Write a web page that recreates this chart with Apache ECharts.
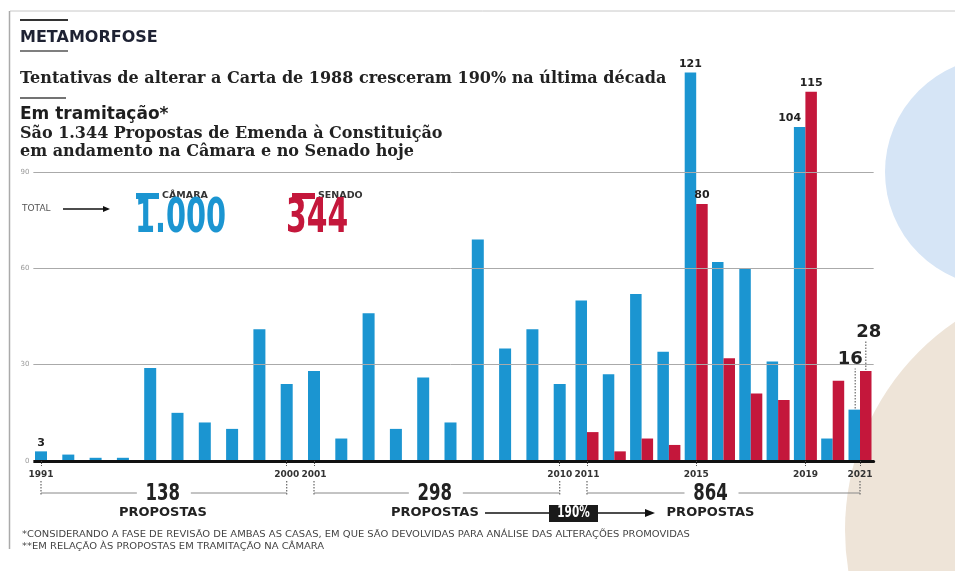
<!DOCTYPE html>
<html><head><meta charset="utf-8">
<script src="https://cdn.jsdelivr.net/npm/echarts@6/dist/echarts.min.js"></script>
<style>html,body{margin:0;padding:0;background:#fff}#c{width:955px;height:571px}</style>
</head><body><div id="c"></div>
<script>
// ---------- DATA ----------
const years = ['1991','1992','1993','1994','1995','1996','1997','1998','1999','2000',
               '2001','2002','2003','2004','2005','2006','2007','2008','2009','2010',
               '2011','2012','2013','2014','2015','2016','2017','2018','2019','2020','2021'];
const camara = [3,2,1,1,29,15,12,10,41,24, 28,7,46,10,26,12,69,35,41,24, 50,27,52,34,121,62,60,31,104,7,16];
const senado = [null,null,null,null,null,null,null,null,null,null,
                null,null,null,null,null,null,null,null,null,null,
                9,3,7,5,80,32,21,19,115,25,28];
const yTicks = [0,30,60,90];
const shownYears = ['1991','2000','2001','2010','2011','2015','2019','2021'];
const senadoStart = '2011';
const periodFrom = ['1991','2001','2011'];
const periodTo = ['2000','2010','2021'];
const periodTotal = ['138','298','864'];
const totalCamara = '1.000';
const totalSenado = '344';
const growth = '190%';
const labeledCamara = ['1991','2015','2019','2021'];
const labeledSenado = ['2015','2019','2021'];

// ---------- STYLE ----------
const BLUE = '#1b95d1', RED = '#c4173b', INK = '#222';
const BW = 11.5;
const lblBase = {show:true, position:'top', fontFamily:'DejaVu Sans', fontWeight:'bold', fontSize:11, color:INK, distance:3};
const camaraLabelStyle = {
  '2019': {offset:[-10,0]},
  '2021': {fontSize:18, distance:41, offset:[-4,0]}
};
const senadoLabelStyle = {
  '2021': {fontSize:18, distance:30, offset:[3,0]}
};
const splitIdx = years.indexOf(senadoStart);

function items(vals, labeled, extra, keep) {
  return vals.map((v, i) => {
    if (!keep(i) || v == null) return null;
    const y = years[i];
    if (labeled.includes(y)) return {value:v, label:Object.assign({}, lblBase, extra[y] || {})};
    return v;
  });
}

const chart = echarts.init(document.getElementById('c'), null, {renderer:'canvas'});
const option = {
  animation:false,
  backgroundColor:'#fff',
  grid:{left:27.35, right:81.35, top:172, bottom:110, containLabel:false},
  legend:[
    {data:['CÂMARA'], left:131, top:186, itemWidth:23, itemHeight:6, itemGap:5, icon:'rect', selectedMode:false,
     textStyle:{fontFamily:'DejaVu Sans', fontWeight:'bold', fontSize:9.5, color:'#333', padding:[0,0,0,-2]}},
    {data:['SENADO'], left:287, top:186, itemWidth:23, itemHeight:6, itemGap:5, icon:'rect', selectedMode:false,
     textStyle:{fontFamily:'DejaVu Sans', fontWeight:'bold', fontSize:9.5, color:'#333', padding:[0,0,0,-2]}}
  ],
  xAxis:[
    {type:'category', data:years, boundaryGap:true,
     axisLine:{show:true, lineStyle:{color:'#111', width:3}},
     axisTick:{show:true, alignWithLabel:true, length:6, interval:(i,v)=>shownYears.includes(v),
               lineStyle:{color:'#555', width:1, type:[1,1]}},
     axisLabel:{interval:(i,v)=>shownYears.includes(v), margin:9, fontFamily:'DejaVu Sans', fontWeight:'bold',
                fontSize:9, color:'#333'},
     splitLine:{show:false}, z:3},
    {type:'category', data:years, show:false, boundaryGap:true}
  ],
  yAxis:{type:'value', min:yTicks[0], max:yTicks[yTicks.length-1], interval:30, z:4,
    axisLine:{show:false}, axisTick:{show:false},
    axisLabel:{fontSize:7, color:'#999', fontFamily:'DejaVu Sans', margin:-6, backgroundColor:'#fff', padding:[0,4,0,1]},
    splitLine:{show:true, showMinLine:false, lineStyle:{color:'#aaa', width:1}}},
  series:[
    {name:'CÂMARA', type:'bar', xAxisIndex:1, barWidth:12, clip:false, itemStyle:{color:BLUE},
     data:items(camara, labeledCamara, camaraLabelStyle, i => i < splitIdx)},
    {name:'CÂMARA', type:'bar', xAxisIndex:0, barWidth:BW, barGap:'0%', clip:false, itemStyle:{color:BLUE},
     data:items(camara, labeledCamara, camaraLabelStyle, i => i >= splitIdx)},
    {name:'SENADO', type:'bar', xAxisIndex:0, barWidth:BW, barGap:'0%', clip:false, itemStyle:{color:RED},
     data:items(senado, labeledSenado, senadoLabelStyle, i => i >= splitIdx)}
  ]
};
chart.setOption(option);

// ---------- ANNOTATIONS (derived from axes) ----------
const px = y => chart.convertToPixel({xAxisIndex:0}, y);
const py = v => chart.convertToPixel({yAxisIndex:0}, v);
function txt(x, y, text, font, fill, align, extra) {
  return Object.assign({type:'text', x:x, y:y, z:10,
    style:{text:text, font:font, fill:fill, textAlign:align||'left', align:align||'left',
           textVerticalAlign:'middle', verticalAlign:'middle'}}, extra || {});
}
function line(x1,y1,x2,y2,stroke,w,dash) {
  return {type:'line', z:9, shape:{x1,y1,x2,y2}, style:{stroke:stroke, lineWidth:w, lineDash:dash||null}};
}
const els = [];
// background decoration
els.push({type:'circle', z:-5, shape:{cx:1000, cy:172, r:115}, style:{fill:'#d6e5f6'}});
els.push({type:'circle', z:-5, shape:{cx:1097, cy:530, r:252}, style:{fill:'#eee4d8'}});
// frame
els.push(line(10,11,955,11,'#c8c8c8',1));
els.push(line(9.5,11,9.5,549,'#aaa',1.5));
els.push(line(20,20,68,20,'#333',2));
els.push(line(20,51,68,51,'#555',1.5));
els.push(line(20,98,66,98,'#444',1.5));
// titles
els.push(txt(20,37.5,'METAMORFOSE','bold 16px "DejaVu Sans"','#1e2233'));
els.push(txt(20,79,'Tentativas de alterar a Carta de 1988 cresceram 190% na última década','bold 16px "DejaVu Serif"','#222'));
els.push(txt(20,115,'Em tramitação*','bold 17px "DejaVu Sans"','#1e1e1e'));
els.push(txt(20,134,'São 1.344 Propostas de Emenda à Constituição','bold 16px "DejaVu Serif"','#222'));
els.push(txt(20,152,'em andamento na Câmara e no Senado hoje','bold 16px "DejaVu Serif"','#222'));
// totals
els.push(txt(22,209,'TOTAL','9px "DejaVu Sans"','#555'));
els.push(line(63,209,104,209,'#111',1.5));
els.push({type:'polygon', z:9, shape:{points:[[103,206],[110,209],[103,212]]}, style:{fill:'#111'}});
els.push(txt(135,220,totalCamara,'bold 48px "DejaVu Sans"',BLUE,'left',{scaleX:0.6}));
els.push(txt(286,220,totalSenado,'bold 48px "DejaVu Sans"',RED,'left',{scaleX:0.62}));
// leader lines for last-year labels
const ci = years.length - 1;
const bx = px(years[ci]);
const topC = py(camara[ci]), topS = py(senado[ci]);
els.push(line(bx - BW/2 + 1, topC - 1, bx - BW/2 + 1, topC - camaraLabelStyle['2021'].distance, '#888', 1.5, [1.5,1.5]));
els.push(line(bx + BW/2, topS - 1, bx + BW/2, topS - senadoLabelStyle['2021'].distance, '#888', 1.5, [1.5,1.5]));
// periods
const periodShift = [-1, -2, -13];
const baseY = py(0);
periodFrom.forEach((f, k) => {
  const x1 = px(f), x2 = px(periodTo[k]);
  const mid = (x1 + x2) / 2 + periodShift[k];
  els.push(line(x1, baseY + 20, x1, baseY + 34, '#666', 1.2, [1.5,1.5]));
  els.push(line(x2, baseY + 20, x2, baseY + 34, '#666', 1.2, [1.5,1.5]));
  els.push(line(x1, baseY + 32, mid - 26, baseY + 32, '#888', 1));
  els.push(line(mid + 28, baseY + 32, x2, baseY + 32, '#888', 1));
  els.push(txt(mid, baseY + 33, periodTotal[k], 'bold 23px "DejaVu Sans"', '#222', 'center', {scaleX:0.72}));
  els.push(txt(mid, baseY + 52, 'PROPOSTAS', 'bold 13px "DejaVu Sans"', '#222', 'center'));
});
// growth arrow
els.push(line(485, baseY + 52, 648, baseY + 52, '#111', 1.5));
els.push({type:'polygon', z:9, shape:{points:[[645,baseY+48],[655,baseY+52],[645,baseY+56]]}, style:{fill:'#111'}});
els.push({type:'rect', z:10, shape:{x:549, y:baseY + 44, width:49, height:17}, style:{fill:'#1a1a1a'}});
els.push(txt(573.5, baseY + 52.5, growth, 'bold 15px "DejaVu Sans"', '#fff', 'center', {scaleX:0.7, z:11}));
// footnotes
els.push(txt(22,535,'*CONSIDERANDO A FASE DE REVISÃO DE AMBAS AS CASAS, EM QUE SÃO DEVOLVIDAS PARA ANÁLISE DAS ALTERAÇÕES PROMOVIDAS','8.5px "DejaVu Sans"','#444','left',{scaleX:1.17}));
els.push(txt(22,547,'**EM RELAÇÃO ÀS PROPOSTAS EM TRAMITAÇÃO NA CÂMARA','8.5px "DejaVu Sans"','#444','left',{scaleX:1.17}));

chart.setOption({graphic:{elements:els}});
</script>
</body></html>
